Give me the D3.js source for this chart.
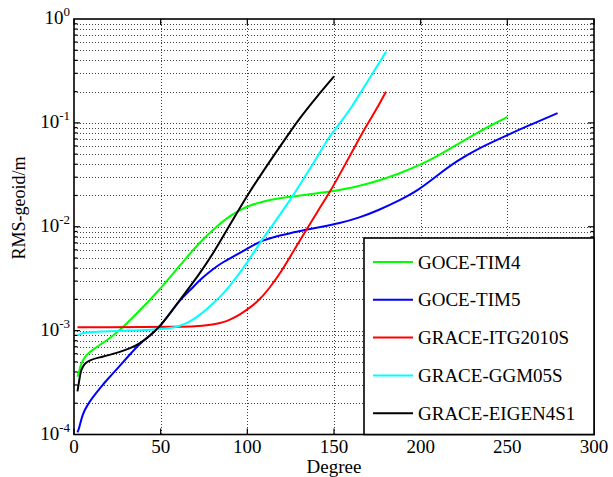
<!DOCTYPE html>
<html>
<head>
<meta charset="utf-8">
<script src="https://cdn.jsdelivr.net/npm/d3@7"></script>
<style>
  body { margin: 0; background: #fff; }
  text { font-family: "Times New Roman", "Liberation Serif", serif; fill: #000; }
</style>
</head>
<body>
<script>
// degree / RMS geoid (m)
var tim4 = [[2,3.6e-4],[3,4.05e-4],[4,4.8e-4],[7,5.9e-4],[12,6.76e-4],[17,7.67e-4],[22,8.81e-4],
  [27,1.035e-3],[32,1.245e-3],[37,1.51e-3],[42,1.84e-3],[49,2.44e-3],[57,3.51e-3],[65,5.07e-3],
  [72,6.92e-3],[80,9.33e-3],[88,1.21e-2],[95,1.43e-2],[102,1.62e-2],[110,1.77e-2],[118,1.87e-2],
  [126,1.95e-2],[136,2.05e-2],[147,2.17e-2],[156,2.3e-2],[165,2.48e-2],[176,2.78e-2],[188,3.27e-2],
  [199,3.89e-2],[210,4.81e-2],[221,6.19e-2],[232,7.94e-2],[241,9.55e-2],[250,0.114]];
var tim5 = [[2,1.05e-4],[3,1.15e-4],[5,1.6e-4],[8,1.95e-4],[11,2.3e-4],[15,2.8e-4],[20,3.5e-4],
  [26,4.5e-4],[32,5.83e-4],[38,7.55e-4],[44,9.0e-4],[49,1.07e-3],[55,1.43e-3],[61,1.97e-3],
  [67,2.45e-3],[74,3.24e-3],[80,3.89e-3],[86,4.59e-3],[95,5.5e-3],[102,6.46e-3],[109,7.41e-3],
  [116,8.04e-3],[124,8.61e-3],[133,9.29e-3],[143,1.0e-2],[153,1.08e-2],[164,1.21e-2],[176,1.45e-2],
  [188,1.8e-2],[199,2.26e-2],[210,3.16e-2],[221,4.32e-2],[234,5.75e-2],[248,7.36e-2],[263,9.55e-2],
  [279,0.124]];
var itg2010s = [[2,1.08e-3],[20,1.08e-3],[40,1.08e-3],[60,1.09e-3],[70,1.1e-3],[78,1.13e-3],[84,1.18e-3],
  [88,1.23e-3],[92,1.32e-3],[96,1.44e-3],[101,1.64e-3],[107,1.97e-3],[113,2.6e-3],[119,3.56e-3],
  [126,5.6e-3],[134,9.3e-3],[141,1.45e-2],[148,2.21e-2],[154,3.35e-2],[161,5.48e-2],[168,9.0e-2],
  [176,0.149],[180,0.2]];
var ggm05s = [[2,9.0e-4],[4,9.4e-4],[7,9.6e-4],[15,9.8e-4],[30,1.0e-3],[45,1.02e-3],[55,1.05e-3],
  [61,1.1e-3],[68,1.25e-3],[74,1.47e-3],[80,1.81e-3],[86,2.26e-3],[90,2.72e-3],[95,3.47e-3],
  [101,4.8e-3],[108,7.33e-3],[114,1.0e-2],[120,1.4e-2],[126,1.95e-2],[133,3.0e-2],[140,4.6e-2],
  [147,7.3e-2],[154,0.102],[160,0.14],[166,0.204],[172,0.295],[176,0.376],[180,0.484]];
var eigen4s1 = [[2,2.6e-4],[3,3.3e-4],[4,4.2e-4],[6,4.8e-4],[9,5.2e-4],[14,5.5e-4],[20,5.8e-4],
  [26,6.2e-4],[32,6.7e-4],[38,7.5e-4],[44,9.0e-4],[49,1.07e-3],[55,1.44e-3],[61,1.97e-3],[68,2.8e-3],
  [74,3.85e-3],[81,5.8e-3],[88,9.2e-3],[95,1.45e-2],[101,2.13e-2],[108,3.2e-2],[116,5.07e-2],
  [123,7.45e-2],[130,0.11],[140,0.178],[150,0.28]];

var seriesNames = ["GOCE-TIM4", "GOCE-TIM5", "GRACE-ITG2010S", "GRACE-GGM05S", "GRACE-EIGEN4S1"];
var seriesData = [tim4, tim5, itg2010s, ggm05s, eigen4s1];
var seriesColors = ["#00ff00", "#0000ff", "#ff0000", "#00ffff", "#000000"];

var xTicks = [0, 50, 100, 150, 200, 250, 300];
var yDecades = [-4, -3, -2, -1, 0];

var W = 613, H = 477;
var plotL = 74, plotR = 594, plotT = 19, plotB = 434.5;

var svg = d3.select("body").append("svg")
    .attr("width", W)
    .attr("height", H);

var x = d3.scaleLinear().domain([0, 300]).range([plotL, plotR]);
var y = d3.scaleLog().domain([1e-4, 1]).range([plotB, plotT]);

// all 1..9 x 10^k values inside the axis
var yMinor = [];
for (var k = -4; k < 0; k++) {
    for (var m = 1; m <= 9; m++) {
        if (!(k === -4 && m === 1)) yMinor.push(m * Math.pow(10, k));
    }
}

// dotted grid
var grid = svg.append("g")
    .attr("stroke", "#000")
    .attr("stroke-opacity", 0.75)
    .attr("stroke-width", 1)
    .attr("stroke-dasharray", "1,2");

grid.selectAll("line.h")
    .data(yMinor)
    .enter()
    .append("line")
        .attr("x1", plotL)
        .attr("x2", plotR)
        .attr("y1", function(d) { return Math.round(y(d)) + 0.5; })
        .attr("y2", function(d) { return Math.round(y(d)) + 0.5; });

grid.selectAll("line.v")
    .data(xTicks.slice(1, -1))
    .enter()
    .append("line")
        .attr("x1", function(d) { return Math.round(x(d)) + 0.5; })
        .attr("x2", function(d) { return Math.round(x(d)) + 0.5; })
        .attr("y1", plotT)
        .attr("y2", plotB);

// inside ticks, all four sides
var isMajor = function(d) { return Math.abs(Math.log10(d) - Math.round(Math.log10(d))) < 1e-9; };
var tickG = svg.append("g").attr("stroke", "#000").attr("stroke-width", 1.2);

tickG.selectAll("line.yl")
    .data(yMinor)
    .enter()
    .append("line")
        .attr("x1", plotL)
        .attr("x2", function(d) { return plotL + (isMajor(d) ? 6 : 3.5); })
        .attr("y1", function(d) { return y(d); })
        .attr("y2", function(d) { return y(d); });

tickG.selectAll("line.yr")
    .data(yMinor)
    .enter()
    .append("line")
        .attr("x1", plotR)
        .attr("x2", function(d) { return plotR - (isMajor(d) ? 6 : 3.5); })
        .attr("y1", function(d) { return y(d); })
        .attr("y2", function(d) { return y(d); });

tickG.selectAll("line.xb")
    .data(xTicks)
    .enter()
    .append("line")
        .attr("x1", function(d) { return x(d); })
        .attr("x2", function(d) { return x(d); })
        .attr("y1", plotB)
        .attr("y2", plotB - 6);

tickG.selectAll("line.xt")
    .data(xTicks)
    .enter()
    .append("line")
        .attr("x1", function(d) { return x(d); })
        .attr("x2", function(d) { return x(d); })
        .attr("y1", plotT)
        .attr("y2", plotT + 6);

// curves (smoothed through the read points)
var line = d3.line()
    .x(function(d) { return x(d[0]); })
    .y(function(d) { return y(d[1]); })
    .curve(d3.curveBasis);

svg.append("g")
    .selectAll("path")
    .data(seriesData)
    .enter()
    .append("path")
        .attr("d", line)
        .attr("fill", "none")
        .attr("stroke", function(d, i) { return seriesColors[i]; })
        .attr("stroke-width", 2);

// box
svg.append("rect")
    .attr("x", plotL)
    .attr("y", plotT)
    .attr("width", plotR - plotL)
    .attr("height", plotB - plotT)
    .attr("fill", "none")
    .attr("stroke", "#000")
    .attr("stroke-width", 1.6);

// x tick labels
svg.selectAll("text.xl")
    .data(xTicks)
    .enter()
    .append("text")
        .attr("x", function(d) { return x(d); })
        .attr("y", 453)
        .attr("text-anchor", "middle")
        .style("font-size", "19px")
        .text(function(d) { return d; });

// y tick labels 10^k
var yl = svg.selectAll("text.yl")
    .data(yDecades)
    .enter()
    .append("text")
        .attr("x", 70)
        .attr("y", function(d) { return y(Math.pow(10, d)) + 5; })
        .attr("text-anchor", "end")
        .style("font-size", "19px");
yl.append("tspan").text("10");
yl.append("tspan")
    .attr("dy", -8)
    .style("font-size", "13px")
    .text(function(d) { return d; });

svg.append("text")
    .attr("x", (plotL + plotR) / 2)
    .attr("y", 473)
    .attr("text-anchor", "middle")
    .style("font-size", "19px")
    .text("Degree");

svg.append("text")
    .attr("transform", "translate(25," + 208 + ") rotate(-90)")
    .attr("text-anchor", "middle")
    .style("font-size", "18px")
    .text("RMS-geoid/m");

// legend in the bottom right corner
var lg = svg.append("g");
lg.append("rect")
    .attr("x", 364)
    .attr("y", 238)
    .attr("width", plotR - 364)
    .attr("height", plotB - 238)
    .attr("fill", "#fff")
    .attr("stroke", "#000")
    .attr("stroke-width", 1.6);

lg.selectAll("line")
    .data(seriesNames)
    .enter()
    .append("line")
        .attr("x1", 373)
        .attr("x2", 413)
        .attr("y1", function(d, i) { return 262 + i * 37.8; })
        .attr("y2", function(d, i) { return 262 + i * 37.8; })
        .attr("stroke", function(d, i) { return seriesColors[i]; })
        .attr("stroke-width", 2);

lg.selectAll("text")
    .data(seriesNames)
    .enter()
    .append("text")
        .attr("x", 418)
        .attr("y", function(d, i) { return 262 + i * 37.8 + 6.5; })
        .style("font-size", "19px")
        .text(function(d) { return d; });
</script>
</body>
</html>
